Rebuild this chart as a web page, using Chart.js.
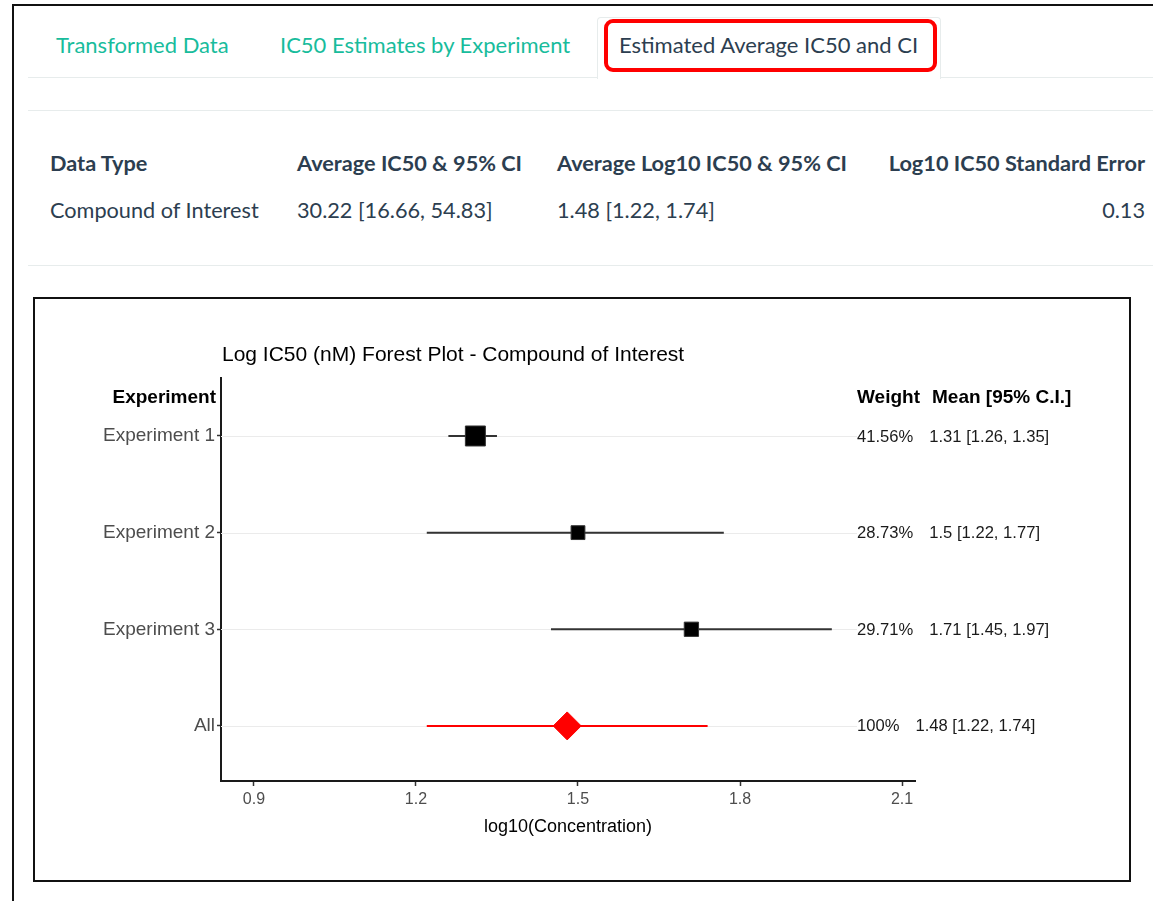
<!DOCTYPE html>
<html>
<head>
<meta charset="utf-8">
<script src="https://cdn.jsdelivr.net/npm/chart.js@4.4.1/dist/chart.umd.min.js"></script>
<style>
  body { margin: 0; background: #fff; font-family: Lato, "Open Sans", sans-serif; color: #2c3e50; }
  .abs { position: absolute; white-space: nowrap; line-height: 24px; }
  .frame { position: absolute; left: 12px; top: 4px; width: 1150px; height: 900px;
           border-left: 2px solid #111; border-top: 2px solid #111; }
  .rule { position: absolute; left: 28px; width: 1125px; height: 1px; background: #e7ecec; }
  .tab { font-size: 22px; color: #18bc9c; }
  .active-tab { position: absolute; left: 597px; top: 17px; width: 342px; height: 61px;
                border: 1px solid #e7ecec; border-bottom: none; border-radius: 4px 4px 0 0; background: #fff; }
  .highlight { position: absolute; left: 604px; top: 19px; width: 325px; height: 45px;
               border: 4px solid #ff0000; border-radius: 9px; }
  .th { font-size: 21.7px; font-weight: bold; color: #2c3e50; }
  .td { font-size: 21.7px; color: #2c3e50; }
  .box { position: absolute; left: 33px; top: 297px; width: 1094px; height: 581px; border: 2px solid #111; }
  canvas { position: absolute; left: 0; top: 0; }
</style>
</head>
<body>
<div class="frame"></div>

<div class="rule" style="top:77px"></div>
<div class="active-tab"></div>
<div class="abs tab" style="left:56px; top:33px">Transformed Data</div>
<div class="abs tab" style="left:280px; top:33px">IC50 Estimates by Experiment</div>
<div class="abs tab" style="left:619px; top:33px; color:#2c3e50">Estimated Average IC50 and CI</div>
<div class="highlight"></div>

<div class="rule" style="top:110px"></div>
<div class="abs th" style="left:50px; top:151px">Data Type</div>
<div class="abs th" style="left:297px; top:151px">Average IC50 &amp; 95% CI</div>
<div class="abs th" style="left:557px; top:151px">Average Log10 IC50 &amp; 95% CI</div>
<div class="abs th" style="right:8px; top:151px">Log10 IC50 Standard Error</div>
<div class="abs td" style="left:50px; top:198px">Compound of Interest</div>
<div class="abs td" style="left:297px; top:198px">30.22 [16.66, 54.83]</div>
<div class="abs td" style="left:557px; top:198px">1.48 [1.22, 1.74]</div>
<div class="abs td" style="right:8px; top:198px">0.13</div>
<div class="rule" style="top:265px"></div>

<div class="box">
  <canvas id="forestChart" width="1094" height="581"></canvas>
</div>

<script>
// Forest plot values (log10 IC50)
const experiments = ['Experiment 1', 'Experiment 2', 'Experiment 3', 'All'];
const means = [1.31, 1.5, 1.71, 1.48];
const lowers = [1.26, 1.22, 1.45, 1.22];
const uppers = [1.35, 1.77, 1.97, 1.74];
const weights = [41.56, 28.73, 29.71, 100];
const xTicks = [0.9, 1.2, 1.5, 1.8, 2.1];

const plotTitle = 'Log IC50 (nM) Forest Plot - Compound of Interest';
const rFont = '"Liberation Sans", Arial, sans-serif';

// draws the title, column headers, row gridlines and the weight / CI text
const forestText = {
  id: 'forestText',
  beforeDatasetsDraw(chart) {
    const { ctx, chartArea, scales } = chart;
    const textX = chartArea.right - 58;
    ctx.save();
    ctx.strokeStyle = '#ebebeb';
    ctx.lineWidth = 1;
    experiments.forEach((name, i) => {
      const y = Math.round(scales.y.getPixelForValue(i + 1)) + 0.5;
      ctx.beginPath();
      ctx.moveTo(chartArea.left, y);
      ctx.lineTo(textX, y);
      ctx.stroke();
    });
    ctx.restore();
  },
  afterDraw(chart) {
    const { ctx, chartArea, scales } = chart;
    const textX = chartArea.right - 58;
    ctx.save();
    ctx.textBaseline = 'middle';
    ctx.fillStyle = '#000';

    ctx.font = '21px ' + rFont;
    ctx.textAlign = 'left';
    ctx.fillText(plotTitle, chartArea.left + 1, chartArea.top - 23);

    const headY = chartArea.top + 20;
    ctx.font = 'bold 19px ' + rFont;
    ctx.textAlign = 'right';
    ctx.fillText('Experiment', chartArea.left - 5, headY);
    ctx.textAlign = 'left';
    ctx.fillText('Weight', textX, headY);
    ctx.fillText('Mean [95% C.I.]', textX + 75, headY);

    ctx.font = '16.6px ' + rFont;
    ctx.fillStyle = '#1a1a1a';
    experiments.forEach((name, i) => {
      const y = scales.y.getPixelForValue(i + 1) + 1;
      const w = weights[i] + '%';
      ctx.fillText(w, textX, y);
      const gap = ctx.measureText(w).width + 16;
      ctx.fillText(`${means[i]} [${lowers[i]}, ${uppers[i]}]`, textX + gap, y);
    });
    ctx.restore();
  }
};

// one horizontal line per confidence interval
const ciDatasets = experiments.map((name, i) => ({
  label: name + ' CI',
  data: [{ x: lowers[i], y: i + 1 }, { x: uppers[i], y: i + 1 }],
  showLine: true,
  borderColor: i === 3 ? '#ff0000' : '#333333',
  borderWidth: 2,
  pointRadius: 0,
  order: 1,
}));

const pointDataset = {
  label: 'Mean',
  data: means.map((m, i) => ({ x: m, y: i + 1 })),
  pointStyle: experiments.map((n, i) => (i === 3 ? 'rectRot' : 'rect')),
  pointRadius: weights.map((w, i) => (i === 3 ? 14 : w * 0.34)),
  backgroundColor: experiments.map((n, i) => (i === 3 ? '#ff0000' : '#000000')),
  borderColor: experiments.map((n, i) => (i === 3 ? '#ff0000' : '#333333')),
  borderWidth: 1,
  order: 0,
};

const ctx = document.getElementById('forestChart').getContext('2d');
new Chart(ctx, {
  type: 'scatter',
  data: { datasets: [pointDataset, ...ciDatasets] },
  options: {
    responsive: false,
    animation: false,
    layout: { padding: { top: 79, right: 214, left: 0, bottom: 42 } },
    plugins: { legend: { display: false }, tooltip: { enabled: false } },
    scales: {
      x: {
        type: 'linear',
        min: 0.839,
        max: 2.124,
        afterBuildTicks: s => { s.ticks = xTicks.map(v => ({ value: v })); },
        afterFit: s => { s.height = 57; },
        ticks: {
          color: '#4d4d4d',
          font: { family: rFont, size: 16 },
          padding: 4,
          callback: v => Number(v).toFixed(1),
        },
        grid: { drawOnChartArea: false, tickLength: 5, tickColor: '#333', tickWidth: 1.5 },
        border: { display: true, color: '#1a1a1a', width: 2 },
        title: {
          display: true,
          text: 'log10(Concentration)',
          color: '#000',
          font: { family: rFont, size: 18 },
          padding: { top: 2, bottom: 0 },
        },
      },
      y: {
        type: 'linear',
        reverse: true,
        min: 0.4,
        max: 4.57,
        afterBuildTicks: s => { s.ticks = experiments.map((n, i) => ({ value: i + 1 })); },
        afterFit: s => { s.width = 186; },
        ticks: {
          color: '#4d4d4d',
          font: { family: rFont, size: 19 },
          padding: 2,
          callback: v => experiments[v - 1],
        },
        grid: { drawOnChartArea: false, tickLength: 4, tickColor: '#333', tickWidth: 1.5 },
        border: { display: true, color: '#1a1a1a', width: 2 },
      },
    },
  },
  plugins: [forestText],
});
</script>
</body>
</html>
